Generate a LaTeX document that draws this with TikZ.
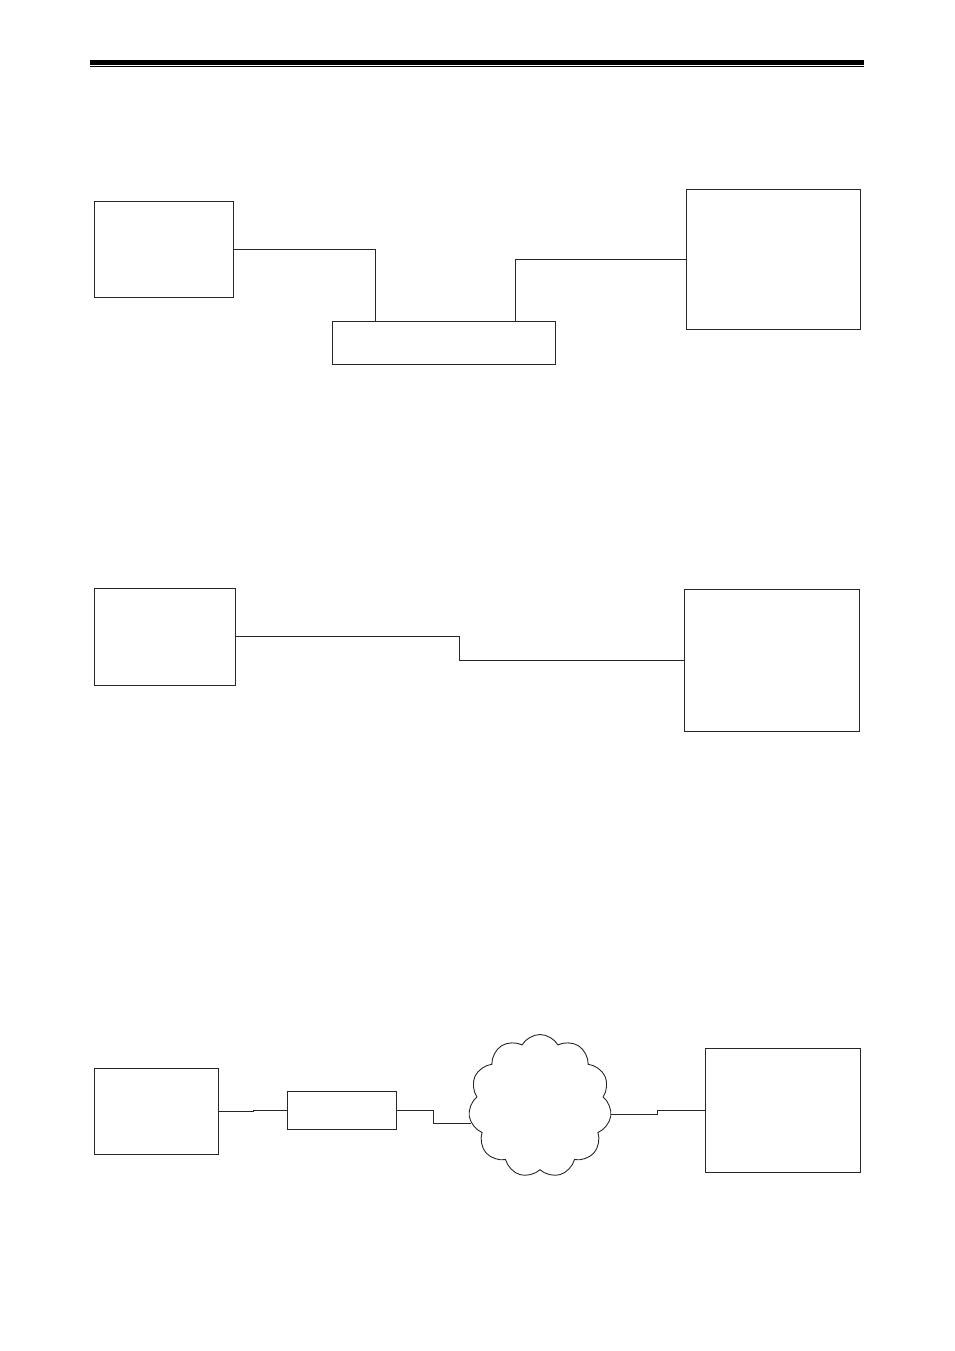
\documentclass[tikz,border=0pt]{standalone}
\usetikzlibrary{shapes.symbols}
\begin{document}
\begin{tikzpicture}[x=1pt,y=-1pt,
  box/.style={draw=black!85, line width=0.9pt, inner sep=0pt, outer sep=0pt, anchor=north west},
  wire/.style={draw=black!85, line width=0.9pt},
  cloudbox/.style={draw=black!85, line width=0.9pt, cloud, cloud puffs=11, cloud puff arc=120, aspect=1, inner sep=0pt, minimum width=143pt, minimum height=143pt}]
\useasboundingbox (0,0) rectangle (954,1351);
% header rule
\fill (90,60) rectangle (864,65);
\draw[line width=1.2pt] (90,66.8) -- (864,66.8);
% section 1
\node[box, minimum width=139pt, minimum height=96pt] (a) at (94,201) {};
\node[box, minimum width=174pt, minimum height=140pt] (b) at (686,189) {};
\node[box, minimum width=223pt, minimum height=43pt] (c) at (332,321) {};
\draw[wire] (a.east) -| ([xshift=43pt]c.north west);
\draw[wire] (b.west) -| ([xshift=183pt]c.north west);
% section 2
\node[box, minimum width=141pt, minimum height=97pt] (d) at (94,588) {};
\node[box, minimum width=175pt, minimum height=142pt] (e) at (684,589) {};
\draw[wire] (d.east) -- ++(224,0) |- (e.west);
% section 3
\node[box, minimum width=124pt, minimum height=86pt] (f) at (94,1068) {};
\node[box, minimum width=109pt, minimum height=38pt] (g) at (287,1091) {};
\node[cloudbox] (k) at (540,1106) {};
\node[box, minimum width=155pt, minimum height=124pt] (h) at (705,1048) {};
\draw[wire] (f.east) -- ++(35,0) |- (g.west);
\draw[wire] (g.east) -- ++(37,0) |- (k.194);
\draw[wire] (h.west) -- ++(-48,0) |- (k.353);
\end{tikzpicture}
\end{document}
